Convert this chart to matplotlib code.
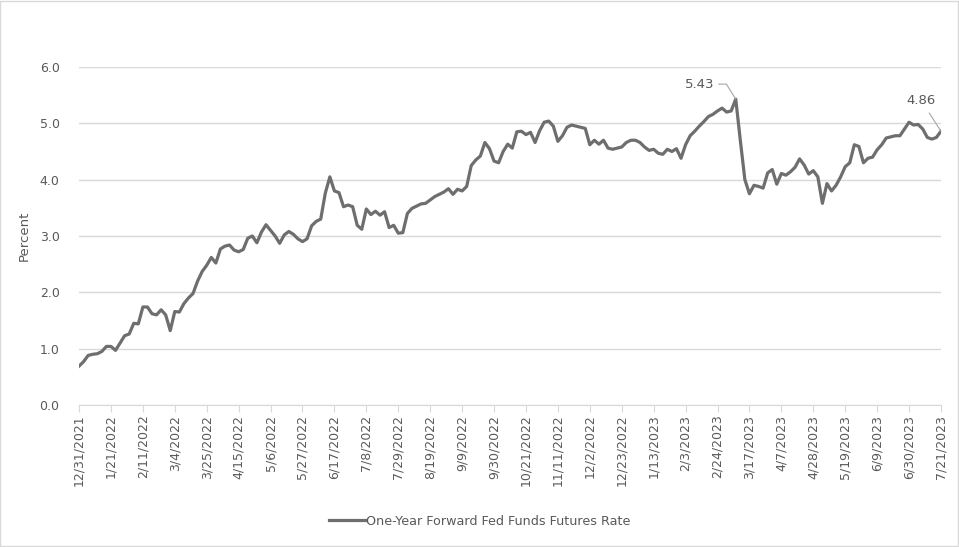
import matplotlib
matplotlib.use("Agg")
import matplotlib.pyplot as plt
import pandas as pd

# One-year forward fed funds futures rate, every 3 days
start_date = "2021-12-31"
end_date = "2023-07-21"
rate = [
    0.69, 0.77, 0.88, 0.90, 0.91, 0.95, 1.04, 1.04, 0.97, 1.10,
    1.23, 1.26, 1.45, 1.44, 1.74, 1.74, 1.62, 1.60, 1.69, 1.60,
    1.32, 1.66, 1.65, 1.80, 1.90, 1.98, 2.20, 2.37, 2.48, 2.62,
    2.52, 2.77, 2.82, 2.84, 2.75, 2.72, 2.76, 2.96, 3.00, 2.88,
    3.07, 3.20, 3.10, 3.00, 2.87, 3.02, 3.08, 3.03, 2.95, 2.90,
    2.95, 3.18, 3.26, 3.30, 3.76, 4.05, 3.80, 3.77, 3.52, 3.55,
    3.52, 3.19, 3.12, 3.48, 3.38, 3.44, 3.37, 3.43, 3.15, 3.19,
    3.05, 3.06, 3.40, 3.49, 3.53, 3.57, 3.58, 3.64, 3.70, 3.74,
    3.78, 3.84, 3.74, 3.83, 3.80, 3.88, 4.25, 4.35, 4.42, 4.66,
    4.55, 4.33, 4.30, 4.50, 4.63, 4.56, 4.85, 4.86, 4.80, 4.84,
    4.66, 4.87, 5.02, 5.04, 4.95, 4.68, 4.78, 4.93, 4.97, 4.95,
    4.93, 4.91, 4.62, 4.70, 4.63, 4.70, 4.56, 4.54, 4.56, 4.58,
    4.66, 4.70, 4.70, 4.66, 4.58, 4.52, 4.54, 4.47, 4.45, 4.54,
    4.50, 4.55, 4.38, 4.62, 4.78, 4.86, 4.95, 5.03, 5.12, 5.16,
    5.22, 5.27, 5.20, 5.22, 5.43, 4.70, 4.00, 3.75, 3.90, 3.88,
    3.85, 4.12, 4.18, 3.92, 4.11, 4.08, 4.14, 4.22, 4.37, 4.26,
    4.10, 4.16, 4.05, 3.58, 3.93, 3.80, 3.90, 4.05, 4.23, 4.30,
    4.62, 4.59, 4.30, 4.38, 4.40, 4.53, 4.62, 4.74, 4.76, 4.78,
    4.78, 4.90, 5.02, 4.97, 4.98, 4.90, 4.75, 4.72, 4.75, 4.86,
]
dates = pd.date_range(start_date, end_date, freq="3D")
series_name = "One-Year Forward Fed Funds Futures Rate"

line_color = "#6e6e6e"
text_color = "#595959"
grid_color = "#d9d9d9"

fig = plt.figure(figsize=(9.59, 5.47), dpi=100)
ax = fig.add_axes([0.0824, 0.2596, 0.8988, 0.6179])

ax.plot(dates, rate, color=line_color, lw=2.3, label=series_name,
        solid_joinstyle="round")

ax.set_ylim(0, 6)
ax.set_yticks([0, 1, 2, 3, 4, 5, 6])
ax.set_yticklabels([f"{v:.1f}" for v in ax.get_yticks()])
ax.set_xlim(pd.Timestamp(start_date), pd.Timestamp(end_date))
xticks = pd.date_range(start_date, end_date, freq="21D")
ax.set_xticks(xticks)
ax.set_xticklabels([f"{d.month}/{d.day}/{d.year}" for d in xticks], rotation=90)

ax.grid(axis="y", color=grid_color, lw=1)
ax.set_axisbelow(True)
for s in ["left", "right", "top"]:
    ax.spines[s].set_visible(False)
ax.spines["bottom"].set_color(grid_color)
ax.tick_params(axis="y", length=0, pad=14, labelsize=9, labelcolor=text_color)
ax.tick_params(axis="x", length=5, color=grid_color, pad=2, labelsize=9,
               labelcolor=text_color)
ax.set_ylabel("Percent", fontsize=9.5, color=text_color, labelpad=6)

# data labels on the peak and on the last value
peak_i = rate.index(max(rate))
ax.annotate(f"{rate[peak_i]:.2f}", xy=(dates[peak_i], rate[peak_i]),
            xytext=(-36, 15), textcoords="offset pixels", ha="center",
            va="center", fontsize=9.5, color=text_color,
            arrowprops=dict(arrowstyle="-", color="#a6a6a6", lw=0.8,
                            shrinkA=1, shrinkB=0,
                            connectionstyle="angle,angleA=0,angleB=122,rad=0"))
ax.annotate(f"{rate[-1]:.2f}", xy=(dates[-1], rate[-1]),
            xytext=(-20, 31), textcoords="offset pixels", ha="center",
            va="center", fontsize=9.5, color=text_color,
            arrowprops=dict(arrowstyle="-", color="#a6a6a6", lw=0.8,
                            shrinkA=3, shrinkB=0))

fig.legend(loc="center", bbox_to_anchor=(0.5, 0.047), frameon=False,
           fontsize=9.2, labelcolor=text_color, handlelength=2.8,
           handletextpad=0.1)

# chart area border
fig.patches.append(plt.Rectangle((0.0005, 0.001), 0.998, 0.998,
                                 transform=fig.transFigure, fill=False,
                                 edgecolor=grid_color, lw=1))

fig.savefig("out.png", dpi=100)
